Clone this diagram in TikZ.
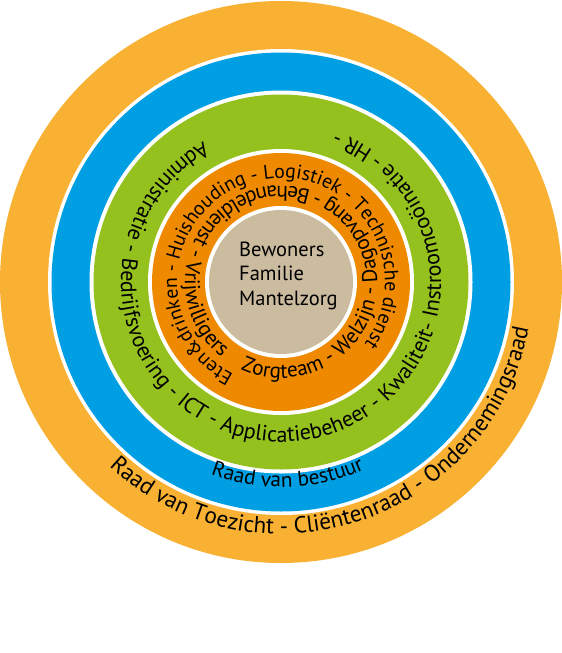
\documentclass[tikz,border=0pt]{standalone}
\usepackage{fontspec}
\setmainfont{PT Sans}
\usetikzlibrary{decorations.text}
\definecolor{ringOuter}{HTML}{F8B133}
\definecolor{ringBlue}{HTML}{009FE3}
\definecolor{ringGreen}{HTML}{95C11F}
\definecolor{ringOrange}{HTML}{EF8A00}
\definecolor{ringBeige}{HTML}{CBBB9F}
\newcommand{\fontOrA}{\fontsize{19.8}{24}\selectfont}
\newcommand{\fontOrB}{\fontsize{21.2}{24}\selectfont}
\newcommand{\fontGr}{\fontsize{22}{24}\selectfont}
\newcommand{\fontBl}{\fontsize{21.3}{24}\selectfont}
\newcommand{\fontOu}{\fontsize{23.2}{26}\selectfont}
\newcommand{\corefont}{\fontsize{20.5}{24}\selectfont}
\begin{document}
\begin{tikzpicture}[x=1pt,y=1pt,
  ringtext/.style={decorate, decoration={text along path, text={#1}}},
  ringtextc/.style={decorate, decoration={text along path, text align=center, text={#1}}},
  corelabel/.style={anchor=base west, inner sep=0pt, font=\corefont}]
\useasboundingbox[fill=white] (0,0) rectangle (562,-653);
\coordinate (C) at (281,-282);
% rings
\fill[ringOuter] (C) circle[radius=281];
\fill[white] (C) circle[radius=233];
\fill[ringBlue] (C) circle[radius=229.5];
\fill[white] (C) circle[radius=191.5];
\fill[ringGreen] (C) circle[radius=187.5];
\fill[white] (C) circle[radius=133];
\fill[ringOrange] (C) circle[radius=129];
\fill[white] (C) circle[radius=76];
\fill[ringBeige] (C) circle[radius=72];
% core text
\node[corelabel] (bew) at (239,-256) {Bewoners};
\node[corelabel] (fam) at (239,-280) {Familie};
\node[corelabel] (man) at (239,-305) {Mantelzorg};
% orange ring, outer row (clockwise)
\path[ringtext={|\fontOrA|Eten{\&}drinken - Huishouding - Logistiek - Technische dienst}]
  (C) ++(243:104) arc[start angle=243, end angle=-80, radius=104];
% orange ring, inner row (counter-clockwise)
\path[ringtext={|\fontOrB|Zorgteam - Welzijn - Dagopvang - Behandeldienst - Vrijwilligers}]
  (C) ++(245:96) arc[start angle=245, end angle=630, radius=96];
% green ring
\path[ringtext={|\fontGr|Administratie - Bedrijfsvoering - ICT - Applicatiebeheer - Kwaliteit- Instroomco{ö}inatie - HR -}]
  (C) ++(119:160) arc[start angle=119, end angle=470, radius=160];
% blue ring
\path[ringtextc={|\fontBl|Raad van bestuur}]
  (C) ++(202:205) arc[start angle=202, end angle=342, radius=205];
% outer ring
\path[ringtext={|\fontOu|Raad van Toezicht - Cli{ë}ntenraad - Ondernemingsraad}]
  (C) ++(227:252) arc[start angle=227, end angle=390, radius=252];
\end{tikzpicture}
\end{document}
